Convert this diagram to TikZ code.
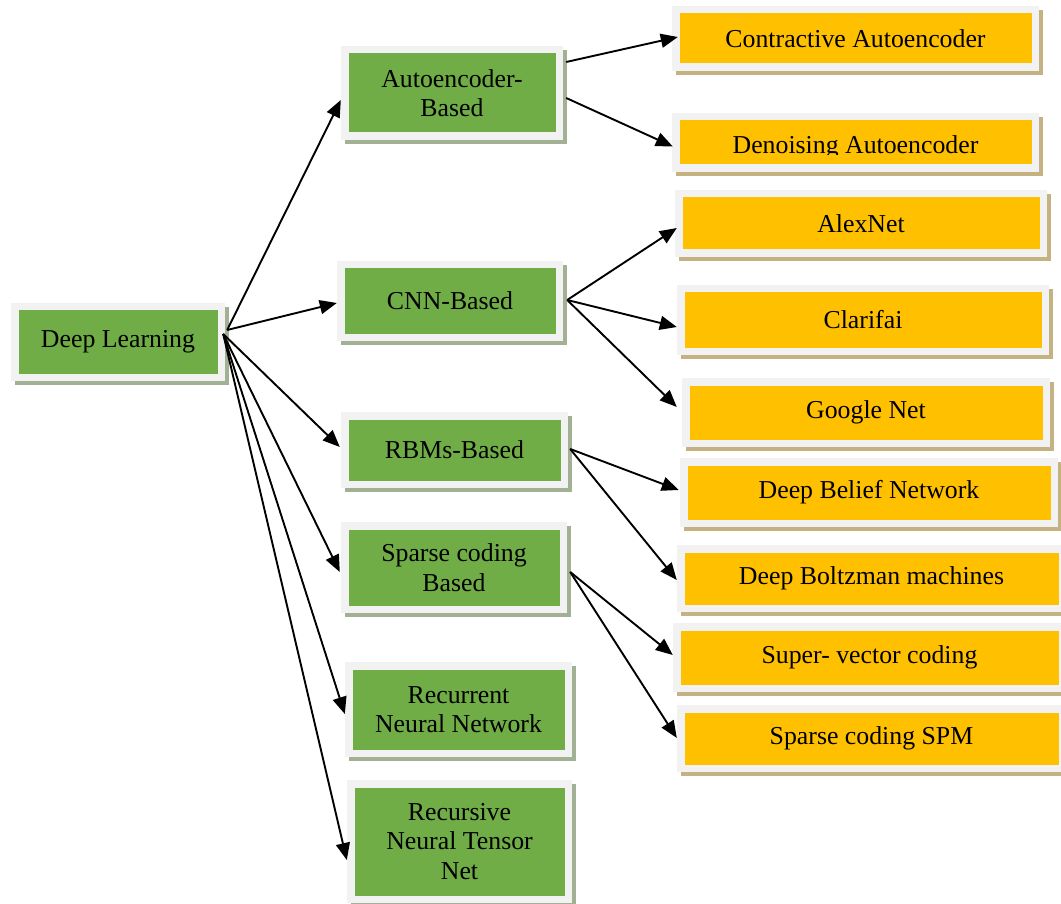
\documentclass[tikz,border=0pt]{standalone}
\usepackage{fontspec}
\setmainfont{Liberation Serif}
\usetikzlibrary{arrows.meta,shadows}

\definecolor{leafgreen}{HTML}{70AD47}
\definecolor{amber}{HTML}{FFC000}
\definecolor{framegray}{HTML}{F2F2F2}
\definecolor{greenshade}{HTML}{A2B193}
\definecolor{ambershade}{HTML}{C4B282}

\tikzset{
  panel/.style={fill=framegray, draw=none, inner sep=0pt, align=center,
    font=\fontsize{25.8pt}{29.5pt}\selectfont, text=black},
  inset/.style={path picture={\fill[#1]
      ([xshift=7.5pt,yshift=-7.5pt]path picture bounding box.north west) rectangle
      ([xshift=-7.5pt,yshift=7.5pt]path picture bounding box.south east);}},
  greenbox/.style={panel, inset=leafgreen,
    general shadow={fill=greenshade, shadow xshift=4pt, shadow yshift=-4pt}},
  amberbox/.style={panel, inset=amber,
    general shadow={fill=ambershade, shadow xshift=4pt, shadow yshift=-4pt}},
  link/.style={line width=1.9pt, -{Triangle[length=17pt,width=14pt]}},
}

\begin{document}
\begin{tikzpicture}[x=1pt,y=-1pt]
\useasboundingbox (0,0) rectangle (1061,904);
\clip (0,0) rectangle (1061,904);

% root and first-level categories
\node[greenbox, minimum width=214pt, minimum height=78pt] (dl) at (118,342) {Deep Learning};
\node[greenbox, minimum width=222pt, minimum height=94pt] (ae) at (452,93) {Autoencoder-\\Based};
\node[greenbox, minimum width=226pt, minimum height=80pt] (cnn) at (450,301) {CNN-Based};
\node[greenbox, minimum width=227pt, minimum height=76pt] (rbm) at (454.5,450) {RBMs-Based};
\node[greenbox, minimum width=226pt, minimum height=91pt] (sc) at (454,567.5) {Sparse coding\\Based};
\node[greenbox, minimum width=227pt, minimum height=95pt] (rnn) at (458.5,709.5) {Recurrent\\Neural Network};
\node[greenbox, minimum width=225pt, minimum height=123pt] (rntn) at (459.5,841.5) {Recursive\\Neural Tensor\\Net};

% second-level methods
\node[amberbox, minimum width=367pt, minimum height=65pt] (ca) at (855.5,38.5) {Contractive Autoencoder};
\node[amberbox, minimum width=367pt, minimum height=59pt] (da) at (855.5,142.5) {};
\begin{scope}
  \clip (680,121) rectangle (1032,154.5);
  \node[font=\fontsize{25.8pt}{29.5pt}\selectfont, inner sep=0pt, anchor=base] (da-label) at (855.5,153.5) {Denoising Autoencoder};
\end{scope}
\node[amberbox, minimum width=372pt, minimum height=67pt] (alex) at (861,223.5) {AlexNet};
\node[amberbox, minimum width=372pt, minimum height=70pt] (clar) at (863,320) {Clarifai};
\node[amberbox, minimum width=368pt, minimum height=69pt] (gn) at (866,412.5) {Google Net};
\node[amberbox, minimum width=378pt, minimum height=69pt] (dbn) at (869,492.5) {Deep Belief Network};
\node[amberbox, minimum width=389pt, minimum height=67pt] (dbm) at (871.5,578.5) {Deep Boltzman machines};
\node[amberbox, minimum width=393pt, minimum height=69pt] (svc) at (869.5,657.5) {Super- vector coding};
\node[amberbox, minimum width=389pt, minimum height=67pt] (spm) at (871.5,738.5) {Sparse coding SPM};

% connectors from the root
\draw[link] ([xshift=2pt,yshift=12pt]dl.east) -- ([yshift=-7pt]ae.west);
\draw[link] ([xshift=2pt,yshift=12pt]dl.east) -- ([yshift=-2pt]cnn.west);
\draw[link] ([xshift=-2pt,yshift=8pt]dl.east) -- ([xshift=-1pt,yshift=3pt]rbm.west);
\draw[link] ([xshift=-2pt,yshift=8pt]dl.east) -- ([xshift=-1pt,yshift=-4.5pt]sc.west);
\draw[link] ([xshift=-2pt,yshift=8pt]dl.east) -- ([yshift=-4.5pt]rnn.west);
\draw[link] ([xshift=-2pt,yshift=8pt]dl.east) -- ([yshift=-18.5pt]rntn.west);

% connectors to the methods
\draw[link] ([xshift=3pt,yshift=31pt]ae.east) -- ([xshift=6pt,yshift=1.5pt]ca.west);
\draw[link] ([xshift=3pt,yshift=-5pt]ae.east) -- ([xshift=1pt,yshift=-4pt]da.west);
\draw[link] ([xshift=4pt,yshift=1pt]cnn.east) -- ([xshift=2pt,yshift=-4.5pt]alex.west);
\draw[link] ([xshift=4pt,yshift=1pt]cnn.east) -- ([yshift=-7pt]clar.west);
\draw[link] ([xshift=4pt,yshift=1pt]cnn.east) -- ([xshift=-5pt,yshift=5.5pt]gn.west);
\draw[link] ([xshift=2pt,yshift=1pt]rbm.east) -- ([xshift=-1pt,yshift=2.5pt]dbn.west);
\draw[link] ([xshift=2pt,yshift=1pt]rbm.east) -- ([yshift=-1.5pt]dbm.west);
\draw[link] ([xshift=3pt,yshift=-4.5pt]sc.east) -- ([yshift=2.5pt]svc.west);
\draw[link] ([xshift=3pt,yshift=-4.5pt]sc.east) -- ([yshift=0.5pt]spm.west);
\end{tikzpicture}
\end{document}
